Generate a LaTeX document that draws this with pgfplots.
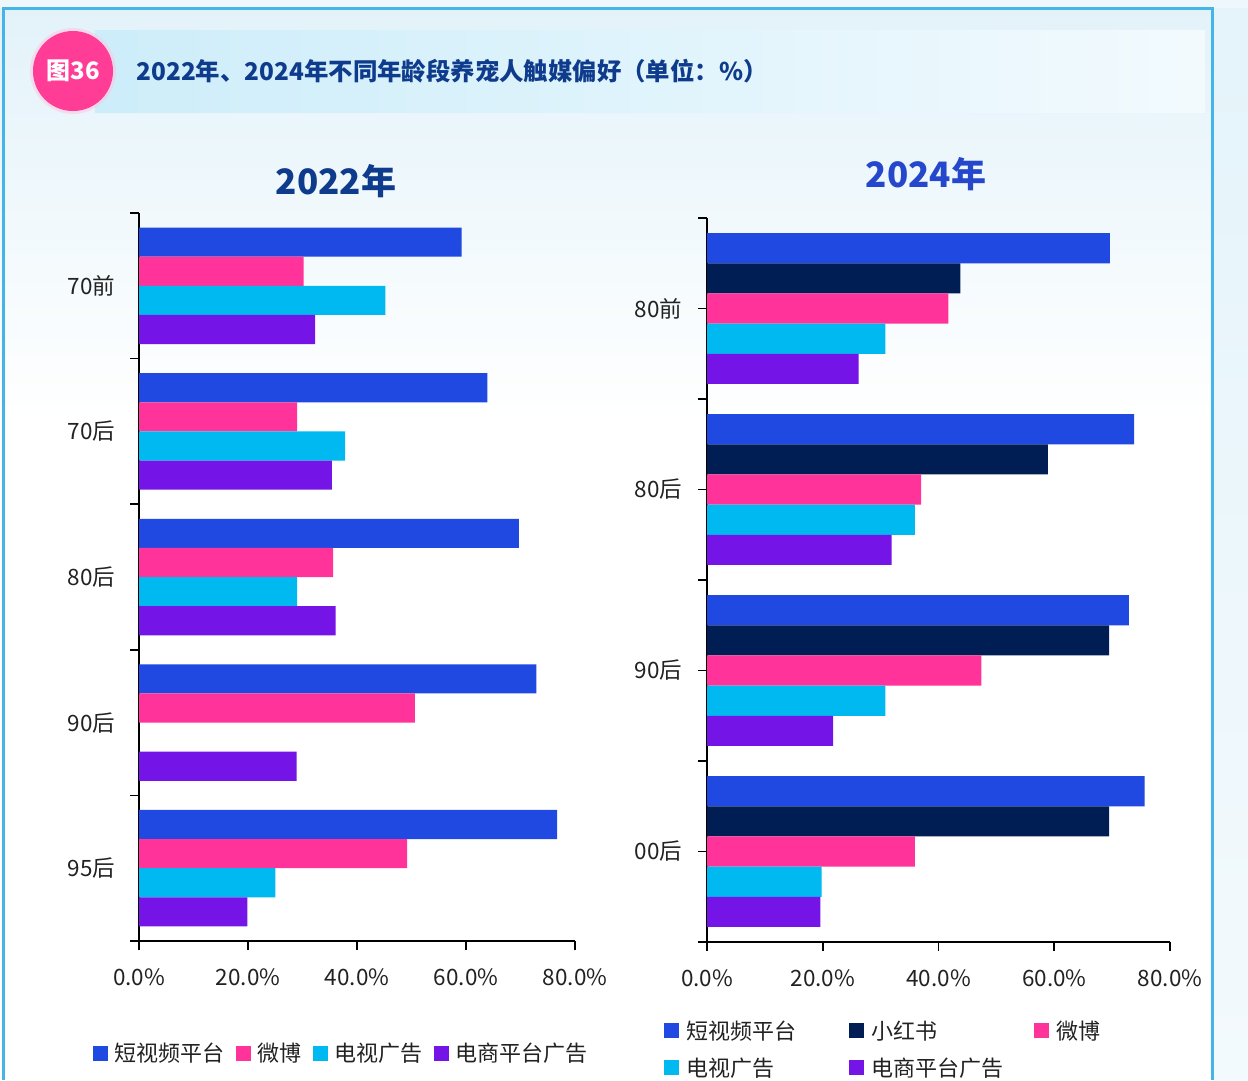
\documentclass[border=0pt]{standalone}
\usepackage{pgfplots}
\pgfplotsset{compat=1.18}
\usepackage{fontspec}
\setmainfont{Noto Sans CJK SC}
\definecolor{cBlue}{HTML}{1F49E0}
\definecolor{cNavy}{HTML}{001E54}
\definecolor{cPink}{HTML}{FF3399}
\definecolor{cCyan}{HTML}{00B9F1}
\definecolor{cPurple}{HTML}{7514E6}
\definecolor{titleNavy}{HTML}{0E3B8C}
\definecolor{titleBlue}{HTML}{2547CC}
\definecolor{frameBlue}{HTML}{45B4E6}
\definecolor{bandBlue}{HTML}{CDEDFA}
\definecolor{pinkCircle}{HTML}{FF3C96}
\definecolor{bgTop}{HTML}{E2F2F9}
\definecolor{txt}{HTML}{222222}
\pgfplotsset{
  mybars/.style={
    scale only axis, xbar, xmin=0, xmax=80,
    axis x line*=bottom, axis y line*=left,
    axis line style={black, line width=1.6pt},
    every tick/.style={black, line width=1.6pt},
    major tick length=9pt, tick align=outside,
    xtick={0,20,40,60,80},
    xticklabels={0.0\%,20.0\%,40.0\%,60.0\%,80.0\%},
    tick label style={font=\fontsize{22.5}{26}\selectfont, text=txt},
    xticklabel style={yshift=-15pt},
    legend style={draw=none, fill=none, font=\fontsize{22}{26}\selectfont, text=txt,
      /tikz/every odd column/.append style={column sep=5pt}},
    legend image code/.code={\draw[#1,draw=none] (0pt,-7.5pt) rectangle (15pt,7.5pt);},
    clip=false,
  }
}
\begin{document}
\begin{tikzpicture}
\useasboundingbox (0pt,0pt) rectangle (1248pt,-1080pt);
% background
\fill[white] (0pt,0pt) rectangle (1248pt,-1080pt);
\shade[top color=bgTop, bottom color=white] (0pt,0pt) rectangle (1248pt,-420pt);
\shade[top color=bgTop!90!frameBlue!60, bottom color=bgTop!40] (1213pt,0pt) rectangle (1248pt,-1080pt);
\fill[bgTop!60] (0pt,0pt) rectangle (1248pt,-8pt);
\draw[frameBlue, line width=3pt] (3pt,-1080pt) -- (3pt,-8pt) -- (1212pt,-8pt) -- (1212pt,-1080pt);
% header band
\shade[left color=bandBlue, right color=bandBlue!25!white] (95pt,-30pt) rectangle (1205pt,-112pt);
\fill[pinkCircle!30, opacity=0.5] (73pt,-71pt) circle (43pt);
\fill[pinkCircle] (73pt,-71pt) circle (40pt);
\node[text=white, font=\bfseries\fontsize{24}{28}\selectfont] at (73pt,-71pt) {图36};
\node[anchor=west, text=titleNavy, font=\bfseries\fontsize{24.4}{28}\selectfont] at (133pt,-71pt) {2022年、2024年不同年龄段养宠人触媒偏好（单位：\%）};
% panel titles
\node[text=titleNavy, font=\bfseries\fontsize{35}{40}\selectfont] at (336pt,-181pt) {2022年};
\node[text=titleBlue, font=\bfseries\fontsize{35}{40}\selectfont] at (926pt,-174pt) {2024年};

% ---- 2022 panel ----
\begin{axis}[mybars,
  at={(139pt,-941pt)}, anchor=south west,
  width=436pt, height=728pt,
  ymin=-0.5, ymax=4.5,
  bar width=0.2,
  ytick={-0.5,0.5,1.5,2.5,3.5,4.5}, yticklabels={},
  extra y ticks={0,1,2,3,4},
  extra y tick labels={95后,90后,80后,70后,70前},
  extra y tick style={major tick length=0pt, yticklabel style={xshift=-20pt}},
  legend columns=4,
  legend style={at={(axis description cs:0.464,-0.154)}, anchor=center,
    /tikz/every even column/.append style={column sep=9pt}},
]
\addplot[fill=cBlue, draw=none, bar shift=0.3] coordinates {(59.2,4) (63.9,3) (69.7,2) (72.9,1) (76.7,0)};
\addplot[fill=cPink, draw=none, bar shift=0.1] coordinates {(30.2,4) (29.0,3) (35.6,2) (50.6,1) (49.2,0)};
\addplot[fill=cCyan, draw=none, bar shift=-0.1] coordinates {(45.2,4) (37.8,3) (29.0,2) (25.0,0)};
\addplot[fill=cPurple, draw=none, bar shift=-0.3] coordinates {(32.3,4) (35.4,3) (36.1,2) (28.9,1) (19.9,0)};
\legend{短视频平台,微博,电视广告,电商平台广告}
\end{axis}

% ---- 2024 panel ----
\begin{axis}[mybars,
  at={(707pt,-942pt)}, anchor=south west,
  width=463pt, height=724pt,
  ymin=-0.5, ymax=3.5,
  bar width=0.16667,
  ytick={0,1,2,3}, yticklabels={00后,90后,80后,80前},
  yticklabel style={xshift=-12pt},
  extra y ticks={-0.5,0.5,1.5,2.5,3.5}, extra y tick labels={},
  legend columns=3,
  legend style={at={(axis description cs:-0.099,-0.103)}, anchor=north west, row sep=13pt,
    /tikz/every even column/.append style={column sep=0pt}},
]
\addplot[fill=cBlue, draw=none, bar shift=0.33333] coordinates {(69.6,3) (73.8,2) (72.9,1) (75.6,0)};
\addplot[fill=cNavy, draw=none, bar shift=0.16667] coordinates {(43.8,3) (58.9,2) (69.5,1) (69.5,0)};
\addplot[fill=cPink, draw=none, bar shift=0] coordinates {(41.7,3) (37.0,2) (47.4,1) (35.9,0)};
\addplot[fill=cCyan, draw=none, bar shift=-0.16667] coordinates {(30.8,3) (35.9,2) (30.8,1) (19.8,0)};
\addplot[fill=cPurple, draw=none, bar shift=-0.33333] coordinates {(26.2,3) (31.9,2) (21.8,1) (19.6,0)};
\legend{\makebox[161pt][l]{短视频平台},\makebox[161pt][l]{小红书},微博,\makebox[161pt][l]{电视广告},\makebox[161pt][l]{电商平台广告}}
\end{axis}
\end{tikzpicture}
\end{document}
